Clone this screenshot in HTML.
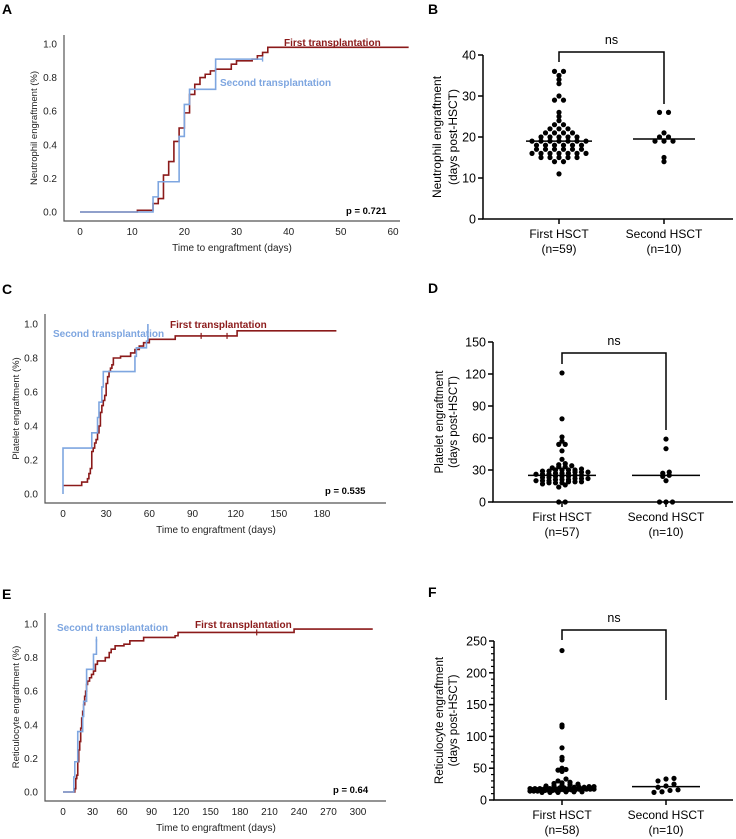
<!DOCTYPE html>
<html><head><meta charset="utf-8">
<style>
html,body{margin:0;padding:0;background:#fff;}
svg{display:block;font-family:"Liberation Sans",Arial,sans-serif;}
</style></head>
<body>
<svg id="fig" width="736" height="839" viewBox="0 0 736 839" xmlns="http://www.w3.org/2000/svg">
<g font-weight="bold" font-size="14" fill="#000">
<text x="2" y="14">A</text>
<text x="428" y="14">B</text>
<text x="2" y="294">C</text>
<text x="428" y="293">D</text>
<text x="2" y="599">E</text>
<text x="428" y="597">F</text>
</g>
</svg>
<script>
// ---------- Kaplan-Meier data ----------
const A_ticks=[0,10,20,30,40,50,60];
const A_first_t=[11,14,15,16,17,18,19,20,21,22,23,24,25,26,29,30,33,34,35,36];
const A_first_s=[0.01,0.05,0.08,0.22,0.30,0.42,0.50,0.59,0.70,0.76,0.80,0.82,0.84,0.85,0.88,0.90,0.91,0.93,0.95,0.98];
const A_second_t=[14,15,19,20,21,26];
const A_second_s=[0.09,0.18,0.45,0.64,0.73,0.91];
const C_ticks=[0,30,60,90,120,150,180];
const C_first_t=[0,13,17,18,19,20,21,22,23,24,25,26,27,28,29,30,31,32,33,34,35,40,47,50,53,56,60,78,121];
const C_first_s=[0.05,0.07,0.09,0.12,0.15,0.25,0.27,0.30,0.32,0.36,0.40,0.48,0.52,0.55,0.58,0.65,0.69,0.72,0.74,0.76,0.80,0.81,0.83,0.85,0.87,0.89,0.91,0.93,0.96];
const C_second_t=[0,20,24,25,27,28,50,51,58,59];
const C_second_s=[0.27,0.36,0.45,0.54,0.63,0.72,0.81,0.86,0.90,1.0];
const E_ticks=[0,30,60,90,120,150,180,210,240,270,300];
const E_first_t=[12,13,14,15,16,17,18,19,20,21,22,23,24,25,27,29,31,33,35,43,47,49,53,62,68,82,114,117,235];
const E_first_s=[0.02,0.08,0.10,0.18,0.25,0.30,0.38,0.44,0.48,0.52,0.57,0.60,0.64,0.66,0.68,0.70,0.72,0.76,0.78,0.80,0.83,0.85,0.87,0.88,0.90,0.92,0.93,0.95,0.97];
const E_second_t=[11,12,15,20,21,24,31,34];
const E_second_s=[0.09,0.18,0.36,0.45,0.54,0.73,0.82,0.91];
const KM_yticks=[0,0.2,0.4,0.6,0.8,1.0];

// ---------- Dot plot data ----------
const B_first=[11,14,14,15,15,15,15,15,16,16,16,16,16,16,16,17,17,17,17,17,17,18,18,18,18,18,18,19,19,19,19,19,19,19,20,20,20,20,20,21,21,21,21,22,22,22,23,23,24,25,26,29,29,30,33,34,35,36,36];
const B_second=[14,15,19,19,19,20,20,21,26,26];
const B_medians=[19,19.5];
const B_yticks=[0,10,20,30,40];
const D_first=[0,0,14,16,17,18,18,18,19,19,19,20,20,20,21,21,21,22,22,22,23,23,24,24,24,25,25,26,26,26,27,27,27,28,28,28,29,29,30,30,30,30,31,32,33,33,34,35,36,40,48,54,54,57,61,78,121];
const D_second=[0,0,0,20,24,25,27,28,50,59];
const D_medians=[25,25];
const D_yticks=[0,30,60,90,120,150];
const F_first=[12,12,12,13,13,13,14,14,14,15,15,15,15,15,16,16,16,16,16,17,17,17,17,17,18,18,18,18,18,19,19,19,19,20,20,20,21,21,22,22,23,24,25,26,27,28,30,33,45,47,48,50,63,67,82,115,118,235];
const F_second=[12,13,15,16,20,22,25,30,33,34];
const F_medians=[19,21];
const F_yticks=[0,50,100,150,200,250];
const groupLabels=["First HSCT","Second HSCT"];
const B_n=["(n=59)","(n=10)"], D_n=["(n=57)","(n=10)"], F_n=["(n=58)","(n=10)"];

const NS="http://www.w3.org/2000/svg";
const svg=document.getElementById('fig');
function mk(tag,attrs,parent,text){const e=document.createElementNS(NS,tag);for(const k in attrs)e.setAttribute(k,attrs[k]);if(text!==undefined)e.textContent=text;(parent||svg).appendChild(e);return e;}

const RED="#8b1a1a", BLUE="#7ea6e0";
function stepPath(xs,ys,ts,ss,endT){
  let d="M"+xs(0)+" "+ys(0);
  for(let i=0;i<ts.length;i++){d+=" H"+xs(ts[i])+" V"+ys(ss[i]);}
  d+=" H"+xs(endT);return d;
}
function km(c){
  const g=mk('g',{});
  
  
  const xs=t=>c.x0+(t)*c.kx, ys=s=>c.y0-(s)*(c.y0-c.y1);
  let l=mk('path',{d:`M${c.axX} ${c.top} V${c.axY} H${c.right}`,stroke:'#555',fill:'none','stroke-width':1.2},g);
  
  KM_yticks.forEach(v=>{let t=mk('text',{x:c.axX-7,y:ys(v)+3.5,'text-anchor':'end','font-size':10,fill:'#222'},g,v.toFixed(1));
    });
  c.ticks.forEach(v=>{let t=mk('text',{x:xs(v),y:c.axY+14,'text-anchor':'middle','font-size':10,fill:'#222'},g,String(v));
    });
  let xt=mk('text',{x:c.xTitleX,y:c.axY+30,'text-anchor':'middle','font-size':10,fill:'#222'},g,'Time to engraftment (days)');
  
  const cy=(c.top+c.axY)/2;
  let yt=mk('text',{x:0,y:0,transform:`translate(${c.yTitleX},${cy}) rotate(-90)`,'text-anchor':'middle','font-size':9.5,fill:'#222'},g,c.yTitle);
  
  let d1="M"+xs(0)+" "+ys(c.firstStart);
  c.ft.forEach((t,i)=>{d1+=" H"+xs(t)+" V"+ys(c.fs[i]);});d1+=" H"+xs(c.fEnd);
  let p1=mk('path',{d:d1,stroke:RED,fill:'none','stroke-width':1.6},g);
  
  (c.fCens||[]).forEach(t=>{let ti=c.ft.filter(x=>x<=t).length-1;let s=c.fs[ti];
    let m=mk('line',{x1:xs(t),x2:xs(t),y1:ys(s)-3,y2:ys(s)+3,stroke:RED,'stroke-width':1.2},g);
    });
  let p2=mk('path',{d:stepPath(xs,ys,c.st,c.ss,c.sEnd),stroke:BLUE,fill:'none','stroke-width':1.6},g);
  
  if(c.sCens){let s=c.ss[c.ss.length-1];let m=mk('line',{x1:xs(c.sEnd),x2:xs(c.sEnd),y1:ys(s)-2.5,y2:ys(s)+2.5,stroke:BLUE,'stroke-width':1.4},g);
    }
  let lf=mk('text',{x:c.fLab[0],y:c.fLab[1],'font-size':10,'font-weight':'bold',fill:RED},g,'First transplantation');
  
  let ls=mk('text',{x:c.sLab[0],y:c.sLab[1],'font-size':10,'font-weight':'bold',fill:BLUE},g,'Second transplantation');
  
  let pv=mk('text',{x:c.pPos[0],y:c.pPos[1],'font-size':9.5,'font-weight':'bold',fill:'#000'},g,c.p);
  
}
km({name:'panel-a-neutrophil-km',x0:80,kx:(393-80)/60,y0:212,y1:44,axX:64,axY:221,top:35,right:400,ticks:A_ticks,
  xTitleX:232,yTitleX:37,yTitle:'Neutrophil engraftment (%)',firstStart:0,ft:A_first_t,fs:A_first_s,fEnd:63,
  st:A_second_t,ss:A_second_s,sEnd:35,sCens:true,fLab:[284,46],sLab:[220,86],pPos:[346,214],p:'p = 0.721'});
km({name:'panel-c-platelet-km',x0:63,kx:(322-63)/180,y0:494,y1:324,axX:45,axY:503,top:314,right:386,ticks:C_ticks,
  xTitleX:216,yTitleX:19,yTitle:'Platelet engraftment (%)',firstStart:0.05,ft:C_first_t,fs:C_first_s,fEnd:190,fCens:[96,114],
  st:C_second_t,ss:C_second_s,sEnd:59,sCens:false,fLab:[170,328],sLab:[53,337],pPos:[325,494],p:'p = 0.535'});
km({name:'panel-e-reticulocyte-km',x0:63,kx:(358-63)/300,y0:792,y1:624,axX:45,axY:801,top:613,right:386,ticks:E_ticks,
  xTitleX:216,yTitleX:19,yTitle:'Reticulocyte engraftment (%)',firstStart:0,ft:E_first_t,fs:E_first_s,fEnd:315,fCens:[197],
  st:E_second_t,ss:E_second_s,sEnd:34,sCens:true,fLab:[195,628],sLab:[57,631],pPos:[333,793],p:'p = 0.64'});

// ---------- Dot plots ----------
function dots(c){
  const g=mk('g',{});
  
  
  const ys=v=>c.y0-v*(c.y0-c.y1)/c.max;
  let ax=mk('path',{d:`M${c.axX} ${ys(c.max)} V${c.y0} H733`,stroke:'#000',fill:'none','stroke-width':1.5},g);
  
  c.yticks.forEach(v=>{mk('line',{x1:c.axX-5,x2:c.axX,y1:ys(v),y2:ys(v),stroke:'#000','stroke-width':1.5},g);
    let t=mk('text',{x:c.axX-7,y:ys(v)+4.5,'text-anchor':'end','font-size':12.5,fill:'#000'},g,String(v));
    });
  if(c.minor){for(let i=0;i<c.yticks.length-1;i++){const a=c.yticks[i],b=c.yticks[i+1];for(let k=1;k<c.minor;k++){const v=a+(b-a)*k/c.minor;
    mk('line',{x1:c.axX-3,x2:c.axX,y1:ys(v),y2:ys(v),stroke:'#000','stroke-width':1.2},g);}}}
  const cy=(ys(c.max)+c.y0)/2;
  let yt=mk('text',{x:0,y:0,transform:`translate(${c.axX-c.tOff},${cy}) rotate(-90)`,'text-anchor':'middle','font-size':c.tSize,fill:'#000'},g);
  
  mk('tspan',{x:0,dy:0},yt,c.yTitle);mk('tspan',{x:0,dy:c.tGap},yt,'(days post-HSCT)');
  const sets=[c.first,c.second];
  c.cx.forEach((x,gi)=>{
    mk('line',{x1:x,x2:x,y1:c.y0,y2:c.y0+5,stroke:'#000','stroke-width':1.5},g);
    let l1=mk('text',{x:x,y:c.y0+19,'text-anchor':'middle','font-size':12,fill:'#000'},g,groupLabels[gi]);
    
    let l2=mk('text',{x:x,y:c.y0+34,'text-anchor':'middle','font-size':12,fill:'#000'},g,c.n[gi]);
    
    const bins={};sets[gi].forEach(v=>{const k=Math.round(v/c.bin[gi]);(bins[k]=bins[k]||[]).push(v);});
    Object.keys(bins).forEach(k=>{const arr=bins[k];
      const sp=arr.length>1?Math.min(c.sp,c.maxW/(arr.length-1)):0;
      arr.forEach((v,i)=>{
      const dx=(i-(arr.length-1)/2)*sp;
      let d=mk('circle',{cx:x+dx,cy:ys(v),r:2.6,fill:'#000'},g);
      });});
    let m=mk('line',{x1:x-c.mw[gi],x2:x+c.mw[gi],y1:ys(c.medians[gi]),y2:ys(c.medians[gi]),stroke:'#000','stroke-width':1.5},g);
    
  });
  let br=mk('path',{d:`M${c.cx[0]} ${c.br[1]} V${c.br[0]} H${c.cx[1]} V${c.br[2]}`,stroke:'#000',fill:'none','stroke-width':1.5},g);
  
  let ns=mk('text',{x:(c.cx[0]+c.cx[1])/2,y:c.br[0]-8,'text-anchor':'middle','font-size':12.5,fill:'#000'},g,'ns');
  
}
dots({name:'panel-b-neutrophil-dotplot',axX:483,y0:219,y1:55,max:40,yticks:B_yticks,cx:[559,664],first:B_first,second:B_second,
  medians:B_medians,bin:[1,1],sp:9,maxW:64,mw:[33,31],br:[52,62,104],n:B_n,yTitle:'Neutrophil engraftment',tOff:42,tGap:16,tSize:12});
dots({name:'panel-d-platelet-dotplot',axX:493,y0:502,y1:342,max:150,yticks:D_yticks,cx:[562,666],first:D_first,second:D_second,
  medians:D_medians,bin:[3,3],sp:6.5,maxW:62,mw:[34,34],br:[353,364,430],n:D_n,yTitle:'Platelet engraftment',tOff:50,tGap:14,tSize:11.5});
dots({name:'panel-f-reticulocyte-dotplot',axX:494,y0:800,y1:641,max:250,yticks:F_yticks,cx:[562,666],first:F_first,second:F_second,
  medians:F_medians,bin:[4,8],sp:8,maxW:64,mw:[34,34],br:[630,640,700],n:F_n,yTitle:'Reticulocyte engraftment',tOff:51,tGap:14,tSize:11.5,minor:5});
</script>
</body></html>
